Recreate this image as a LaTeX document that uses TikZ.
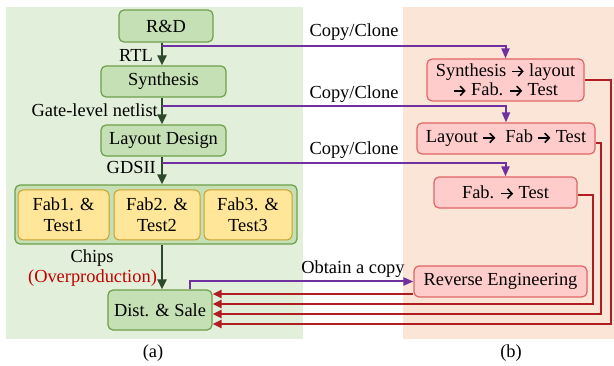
\documentclass[tikz,border=0pt]{standalone}
\usepackage{fontspec}
\setmainfont{Liberation Serif}
\usetikzlibrary{arrows.meta}
\definecolor{gbg}{HTML}{E2EFDA}
\definecolor{gbf}{HTML}{C5E0B4}
\definecolor{gbd}{HTML}{6E9F4C}
\definecolor{ybf}{HTML}{FFE699}
\definecolor{ybd}{HTML}{C9A030}
\definecolor{obg}{HTML}{FBE5D6}
\definecolor{rbf}{HTML}{FFCCCC}
\definecolor{rbd}{HTML}{E06666}
\definecolor{rln}{HTML}{B01E23}
\definecolor{pln}{HTML}{7030A0}
\definecolor{dgn}{HTML}{2E4A2C}
\definecolor{ovr}{HTML}{C00000}
\newcommand{\myarr}{\tikz[baseline={(0pt,-5pt)}, x=1pt, y=1pt]{\draw[line width=1.6pt, -{Straight Barb[length=4.5pt,width=9.5pt,line width=1.6pt]}] (0,0) -- (12,0);}}
\begin{document}
\begin{tikzpicture}[x=1pt,y=-1pt,
  font=\fontsize{18.4}{21}\selectfont,
  gbox/.style={draw=gbd, fill=gbf, rounded corners=5pt, line width=1.2pt, inner sep=1pt},
  ybox/.style={draw=ybd, fill=ybf, rounded corners=5pt, line width=1pt, inner sep=1pt, align=center},
  rbox/.style={draw=rbd, fill=rbf, rounded corners=5pt, line width=1.2pt, inner sep=1pt},
  lbl/.style={inner sep=0pt},
  garrow/.style={draw=dgn, line width=2pt, -{Triangle[length=10pt,width=9pt]}},
  parrow/.style={draw=pln, line width=2pt, -{Triangle[length=10pt,width=8pt]}},
  rarrow/.style={draw=rln, line width=2pt, -{Triangle[length=9pt,width=8pt]}},
]
\useasboundingbox (0,0) rectangle (614,366);
\fill[gbg] (6,7) rectangle (303,339);
\fill[obg] (403,7) rectangle (614,339);

% left flow
\node[gbox, minimum width=94pt, minimum height=32pt] (rd) at (166,26) {R\&D};
\node[gbox, minimum width=125pt, minimum height=31pt] (syn) at (163.5,81.5) {Synthesis};
\node[gbox, minimum width=125pt, minimum height=31pt] (lay) at (163.5,140.5) {Layout Design};
\node[gbox, minimum width=282pt, minimum height=59pt] (grp) at (156,214.5) {};
\node[ybox, minimum width=91pt, minimum height=50pt] (f1) at (63.5,215) {Fab1. \&\\Test1};
\node[ybox, minimum width=86pt, minimum height=50pt] (f2) at (157,215) {Fab2. \&\\Test2};
\node[ybox, minimum width=88pt, minimum height=50pt] (f3) at (248,215) {Fab3. \&\\Test3};
\node[gbox, minimum width=104pt, minimum height=40pt] (dist) at (160,310) {Dist. \& Sale};

\coordinate (ax) at (162,0);
\draw[garrow] (rd.south -| ax) -- (syn.north -| ax);
\draw[garrow] (syn.south -| ax) -- (lay.north -| ax);
\draw[garrow] (lay.south -| ax) -- (grp.north -| ax);
\draw[garrow] (grp.south -| ax) -- (dist.north -| ax);

\node[lbl, anchor=east] (lrtl) at (153,55) {RTL};
\node[lbl, anchor=east] (lgate) at (158,110) {Gate-level netlist};
\node[lbl, anchor=east] (lgds) at (156,168) {GDSII};
\node[lbl] (lchips) at (92,258) {Chips};
\node[lbl, text=ovr] (lover) at (92.5,278) {(Overproduction)};

% right boxes
\node[rbox, align=center, font=\fontsize{18.4}{19.5}\selectfont, minimum width=157pt, minimum height=42pt] (b1) at (505.5,80) {Synthesis \myarr{} layout\\\myarr{} Fab. \myarr{} Test};
\node[rbox, minimum width=178pt, minimum height=31pt] (b2) at (506,138.5) {Layout \myarr{}\ \ Fab \myarr{} Test};
\node[rbox, minimum width=143pt, minimum height=31pt] (b3) at (505.5,192.5) {Fab. \myarr{} Test};
\node[rbox, minimum width=173pt, minimum height=31pt] (re) at (500.5,281.5) {Reverse Engineering};

% purple copy lines
\coordinate (p1) at (162,46);
\coordinate (p2) at (162,106);
\coordinate (p3) at (162,163);
\draw[parrow] (p1) -| (b1.north);
\draw[parrow] (p2) -| (b2.north);
\draw[parrow] (p3) -| (b3.north);
\coordinate (q) at (190,281);
\draw[parrow] (dist.north -| q) |- (re.west);

\node[lbl] (c1) at (354,32) {Copy/Clone};
\node[lbl] (c2) at (354,94) {Copy/Clone};
\node[lbl] (c3) at (354,150) {Copy/Clone};
\node[lbl] (ob) at (353,269) {Obtain a copy};

% red return lines
\coordinate (v1) at (611,324);
\coordinate (v2) at (601,314);
\coordinate (v3) at (593,304);
\coordinate (v4) at (414,294);
\draw[rarrow] (b1.east) -| (v1) -- (dist.east |- v1);
\draw[rarrow] ([yshift=-4.5pt]b2.east) -| (v2) -- (dist.east |- v2);
\draw[rarrow] ([yshift=-2.5pt]b3.east) -| (v3) -- (dist.east |- v3);
\draw[rarrow] (re.west |- v4) -- (dist.east |- v4);

\node[lbl] (capa) at (153,353) {(a)};
\node[lbl] (capb) at (511,353) {(b)};
\end{tikzpicture}
\end{document}
